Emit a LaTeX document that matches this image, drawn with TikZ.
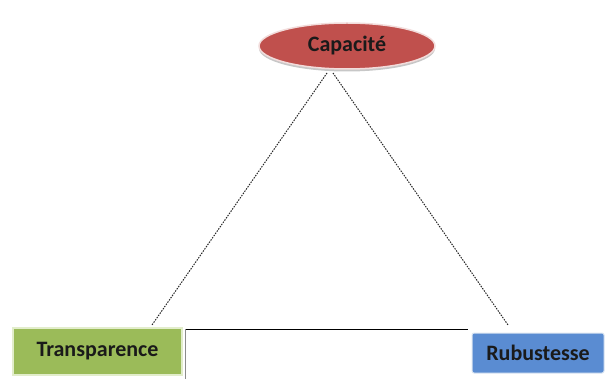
\documentclass[tikz,border=0pt]{standalone}
\usepackage{fontspec}
\setmainfont{Carlito}
\usetikzlibrary{shapes.geometric,shadows}
\definecolor{capred}{HTML}{C0504D}
\definecolor{capedge}{HTML}{F2DCDB}
\definecolor{transgreen}{HTML}{9BBB59}
\definecolor{transedge}{HTML}{E2EDCB}
\definecolor{robblue}{HTML}{5A8CD2}
\definecolor{robedge}{HTML}{DCE6F2}
\definecolor{inktext}{HTML}{1A1A1A}
\tikzset{
  labeltext/.style={font=\fontsize{22}{26}\selectfont\bfseries, text=inktext},
  capnode/.style={ellipse, labeltext, fill=capred, draw=capedge, line width=1.5pt,
    minimum width=176pt, minimum height=46pt, inner sep=0pt,
    drop shadow={shadow xshift=0pt, shadow yshift=-2.5pt, fill=gray!55, opacity=0.8}},
  transnode/.style={rectangle, labeltext, fill=transgreen, draw=transedge, line width=1.5pt,
    minimum width=169pt, minimum height=47pt, inner sep=0pt},
  robnode/.style={rectangle, rounded corners=2pt, labeltext, fill=robblue, draw=robedge,
    line width=1pt, minimum width=132pt, minimum height=40pt, inner sep=0pt},
  linkline/.style={draw=black!85, line width=1pt, dash pattern=on 1.5pt off 1.2pt},
  frameline/.style={draw=black, line width=1pt},
  frameside/.style={draw=black!45, line width=0.6pt}
}
\begin{document}
\begin{tikzpicture}[x=1pt, y=-1pt]
  \useasboundingbox (0,0) rectangle (609,379);
  % the three nodes
  \node[capnode]   (cap)   at (347,46)    {Capacité};
  \node[transnode] (trans) at (97.5,351.5) {Transparence};
  \node[robnode]   (rob)   at (538,353)   {Rubustesse};
  % end points of the dashed links
  \coordinate (capL)  at (327,73);
  \coordinate (capR)  at (333,73);
  \coordinate (transT) at (152,325);
  \coordinate (robT)   at (508,325);
  % frame between the two boxes
  \coordinate (frameA) at (185,329);
  \coordinate (frameB) at (468,329);
  \coordinate (frameC) at (185,379);
  % dashed links
  \draw[linkline] (capL) -- (transT);
  \draw[linkline] (capR) -- (robT);
  % frame lines
  \draw[frameline] (frameA) -- (frameB);
  \draw[frameside] (frameA) -- (frameC);
\end{tikzpicture}
\end{document}
